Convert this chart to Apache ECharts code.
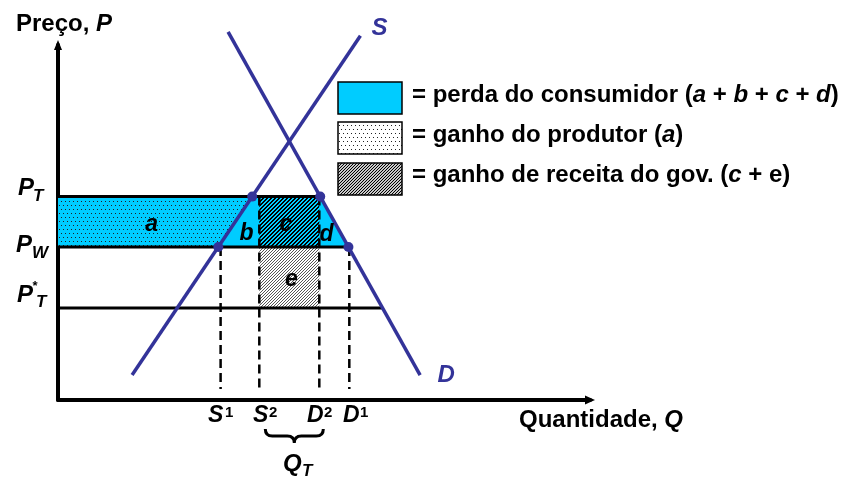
<!DOCTYPE html>
<html>
<head>
<meta charset="utf-8">
<script src="https://cdn.jsdelivr.net/npm/echarts@6/dist/echarts.min.js"></script>
<style>
html,body{margin:0;padding:0;background:#fff;}
#chart{width:853px;height:500px;}
</style>
</head>
<body>
<div id="chart"></div>
<script>
// ---------------- data (economic units) ----------------
const supplyLine = [[24.7, 8.3], [100.8, 121.4]];      // S curve end points [Q, P]
const demandLine = [[56.7, 122.7], [120.7, 8.3]];      // D curve end points [Q, P]
const priceLevels = [67.8, 51.0, 30.7];                // P_T, P_W, P*_T
const quantityMarks = [54.2, 67.1, 87.1, 97.1];        // S1, S2, D2, D1
const ptStarLineEnd = 108;                             // end of the P*_T line
const dashedBottom = 3.7;                              // where dashed guides stop
const regionNames = ['a', 'b', 'c', 'd', 'e'];
const regionLabelAt = [[31.2, 58.5], [62.8, 55.3], [76.0, 58.5], [89.5, 55.0], [77.8, 40.2]];
const quantityNames = ['S', 'S', 'D', 'D'];
const quantitySups = ['1', '2', '2', '1'];
const legendLabels = [
  '= perda do consumidor ({i|a} + {i|b} + {i|c} + {i|d})',
  '= ganho do produtor ({i|a})',
  '= ganho de receita do gov. ({i|c} + e)'
];

// ---------------- style ----------------
const FONT = '"Liberation Sans", Arial, Helvetica, sans-serif';
const NAVY = '#333399';
const CYAN = '#00CCFF';

function makeCanvas(w, h, draw) {
  const c = document.createElement('canvas');
  c.width = w; c.height = h;
  draw(c.getContext('2d'));
  return c;
}
function hatch(bg, fg, period, thick) {
  return makeCanvas(period, period, g => {
    if (bg) { g.fillStyle = bg; g.fillRect(0, 0, period, period); }
    g.fillStyle = fg;
    for (let x = 0; x < period; x++) for (let y = 0; y < period; y++) {
      if ((x + y) % period < thick) g.fillRect(x, y, 1, 1);
    }
  });
}
function dots(bg) {
  return makeCanvas(4, 8, g => {
    if (bg) { g.fillStyle = bg; g.fillRect(0, 0, 4, 8); }
    g.fillStyle = '#222';
    g.fillRect(1, 1, 1, 1);
    g.fillRect(3, 5, 1, 1);
  });
}
const patDots = { image: dots(null), repeat: 'repeat' };
const patDotsWhite = { image: dots('#fff'), repeat: 'repeat' };
const patDark = { image: hatch(CYAN, '#000', 4, 2), repeat: 'repeat' };
const patLight = { image: hatch('#fff', '#555', 3, 1), repeat: 'repeat' };
const patLegend = { image: hatch('#c8c8c8', '#000', 3, 1), repeat: 'repeat' };

// ---------------- helpers ----------------
const qOn = (line, p) => line[0][0] + (p - line[0][1]) * (line[1][0] - line[0][0]) / (line[1][1] - line[0][1]);
const sQ = p => qOn(supplyLine, p);
const dQ = p => qOn(demandLine, p);
const [PT, PW, PTs] = priceLevels;
const [S1, S2, D2, D1] = quantityMarks;

function txt(x, y, text, size, extra) {
  return { type: 'text', x: x, y: y, style: Object.assign({
    text: text, fontSize: size, fontWeight: 'bold', fontStyle: 'italic', fontFamily: FONT,
    fill: '#000', align: 'left', verticalAlign: 'middle'
  }, extra || {}) };
}

// ---------------- series ----------------
const series = [];

// shaded areas
series.push({
  type: 'custom', z: 1, silent: true, clip: false, data: [[0, 0]],
  renderItem: function (params, api) {
    const c = (q, p) => api.coord([q, p]);
    return { type: 'group', children: [
      { type: 'polygon', shape: { points: [c(0, PT), c(dQ(PT), PT), c(dQ(PW), PW), c(0, PW)] }, style: { fill: CYAN } },
      { type: 'polygon', shape: { points: [c(0, PT), c(sQ(PT), PT), c(sQ(PW), PW), c(0, PW)] }, style: { fill: patDots } },
      { type: 'polygon', shape: { points: [c(S2, PT), c(D2, PT), c(D2, PW), c(S2, PW)] }, style: { fill: patDark } },
      { type: 'polygon', shape: { points: [c(S2, PW), c(D2, PW), c(D2, PTs), c(S2, PTs)] }, style: { fill: patLight } }
    ] };
  }
});

// price lines
[[[0, PT], [dQ(PT), PT]], [[0, PW], [dQ(PW), PW]], [[0, PTs], [ptStarLineEnd, PTs]]].forEach(d => {
  series.push({ type: 'line', data: d, symbol: 'none', silent: true, z: 2,
    lineStyle: { color: '#000', width: 3 } });
});

// dashed guides
[[S1, PW], [S2, PT], [D2, PT], [D1, PW]].forEach(([q, p]) => {
  series.push({ type: 'line', data: [[q, p], [q, dashedBottom]], symbol: 'none', silent: true, z: 2,
    lineStyle: { color: '#000', width: 2.5, type: [9, 5] } });
});

// supply & demand
[supplyLine, demandLine].forEach(d => {
  series.push({ type: 'line', data: d, symbol: 'none', silent: true, z: 3, clip: false,
    lineStyle: { color: NAVY, width: 3.5 } });
});

// intersection dots
series.push({ type: 'scatter', silent: true, z: 4, symbolSize: 10,
  itemStyle: { color: NAVY, opacity: 1 },
  data: [[sQ(PT), PT], [sQ(PW), PW], [dQ(PT), PT], [dQ(PW), PW]] });

// label offsets (pixels)
const qLabelOffsets = [[-12.7, 4.3], [-6.3, 9.7], [-12.3, 4.7], [-6.3, 10.7]];

// labels
series.push({
  type: 'custom', z: 5, silent: true, clip: false, data: [[0, 0]],
  renderItem: function (params, api) {
    const c = (q, p) => api.coord([q, p]);
    const ax = c(0, 0);
    const ch = [];
    // price axis labels
    const yT = c(0, PT)[1], yW = c(0, PW)[1], yS = c(0, PTs)[1];
    ch.push(txt(ax[0] - 40, yT - 8, 'P', 24));
    ch.push(txt(ax[0] - 25, yT - 0.5, 'T', 17));
    ch.push(txt(ax[0] - 42, yW - 2, 'P', 24));
    ch.push(txt(ax[0] - 26, yW + 6, 'W', 17));
    ch.push(txt(ax[0] - 41, yS - 13, 'P', 24));
    ch.push(txt(ax[0] - 26, yS - 21, '*', 13));
    ch.push(txt(ax[0] - 22, yS - 6, 'T', 17));
    // quantity labels
    quantityMarks.forEach((q, i) => {
      const x = c(q, 0)[0];
      ch.push(txt(x + qLabelOffsets[i][0], ax[1] + 16, quantityNames[i], 23));
      ch.push(txt(x + qLabelOffsets[i][1], ax[1] + 12.5, quantitySups[i], 15, { fontStyle: 'normal' }));
    });
    // brace + Q_T
    const xl = c(S2, 0)[0] + 6, xr = c(D2, 0)[0] + 4, xm = (xl + xr) / 2;
    const yt = ax[1] + 29, ym = ax[1] + 36, yb = ax[1] + 43;
    ch.push({ type: 'path', shape: { pathData:
      'M' + xl + ' ' + yt + ' Q' + xl + ' ' + ym + ' ' + (xl + 7) + ' ' + ym +
      ' L' + (xm - 7) + ' ' + ym + ' Q' + xm + ' ' + ym + ' ' + xm + ' ' + yb +
      ' Q' + xm + ' ' + ym + ' ' + (xm + 7) + ' ' + ym +
      ' L' + (xr - 7) + ' ' + ym + ' Q' + xr + ' ' + ym + ' ' + xr + ' ' + yt },
      style: { fill: null, stroke: '#000', lineWidth: 3 } });
    const xmid = (c(S2, 0)[0] + c(D2, 0)[0]) / 2;
    ch.push(txt(xmid - 6.3, ax[1] + 64, 'Q', 24));
    ch.push(txt(xmid + 12.7, ax[1] + 71.5, 'T', 17));
    // curve labels
    const sEnd = c(supplyLine[1][0], supplyLine[1][1]);
    const dEnd = c(demandLine[1][0], demandLine[1][1]);
    ch.push(txt(sEnd[0] + 19, sEnd[1] - 7, 'S', 24, { fill: NAVY, align: 'center' }));
    ch.push(txt(dEnd[0] + 26, dEnd[1], 'D', 24, { fill: NAVY, align: 'center' }));
    // region labels
    regionNames.forEach((n, i) => {
      const p = c(regionLabelAt[i][0], regionLabelAt[i][1]);
      ch.push(txt(p[0], p[1], n, 23, { align: 'center' }));
    });
    return { type: 'group', children: ch };
  }
});

// ---------------- chart ----------------
const chart = echarts.init(document.getElementById('chart'), null, { renderer: 'canvas', width: 853, height: 500 });
const axisCommon = {
  type: 'value', min: 0,
  axisTick: { show: false }, axisLabel: { show: false }, splitLine: { show: false }
};
const richItalic = { i: { fontStyle: 'italic', fontWeight: 'bold', fontSize: 24, fontFamily: FONT, fill: '#000' } };
chart.setOption({
  animation: false,
  backgroundColor: '#fff',
  grid: { left: 58, top: 45, width: 532, height: 355 },
  xAxis: Object.assign({}, axisCommon, { max: 177.33,
    axisLine: { show: true, onZero: false, symbol: ['none', 'triangle'], symbolSize: [9, 10],
      lineStyle: { color: '#000', width: 4 } } }),
  yAxis: Object.assign({}, axisCommon, { max: 118.33,
    axisLine: { show: true, onZero: false, symbol: ['none', 'triangle'], symbolSize: [8, 10],
      lineStyle: { color: '#000', width: 4 } } }),
  series: series,
  graphic: [
    { type: 'rect', shape: { x: 338, y: 82, width: 64, height: 32 }, style: { fill: CYAN, stroke: '#000', lineWidth: 1.5 } },
    { type: 'rect', shape: { x: 338, y: 122, width: 64, height: 32 }, style: { fill: patDotsWhite, stroke: '#000', lineWidth: 1.5 } },
    { type: 'rect', shape: { x: 338, y: 163, width: 64, height: 32 }, style: { fill: patLegend, stroke: '#000', lineWidth: 1.5 } },
    { type: 'text', x: 412, y: 95, style: { text: legendLabels[0], rich: richItalic, fontSize: 24, fontWeight: 'bold', fontFamily: FONT, fill: '#000', verticalAlign: 'middle' } },
    { type: 'text', x: 412, y: 135, style: { text: legendLabels[1], rich: richItalic, fontSize: 24, fontWeight: 'bold', fontFamily: FONT, fill: '#000', verticalAlign: 'middle' } },
    { type: 'text', x: 412, y: 175, style: { text: legendLabels[2], rich: richItalic, fontSize: 24, fontWeight: 'bold', fontFamily: FONT, fill: '#000', verticalAlign: 'middle' } },
    { type: 'text', x: 16, y: 24, style: { text: 'Preço, {i|P}', rich: richItalic, fontSize: 24, fontWeight: 'bold', fontFamily: FONT, fill: '#000', verticalAlign: 'middle' } },
    { type: 'text', x: 519, y: 420, style: { text: 'Quantidade, {i|Q}', rich: richItalic, fontSize: 24, fontWeight: 'bold', fontFamily: FONT, fill: '#000', verticalAlign: 'middle' } }
  ]
});
</script>
</body>
</html>
